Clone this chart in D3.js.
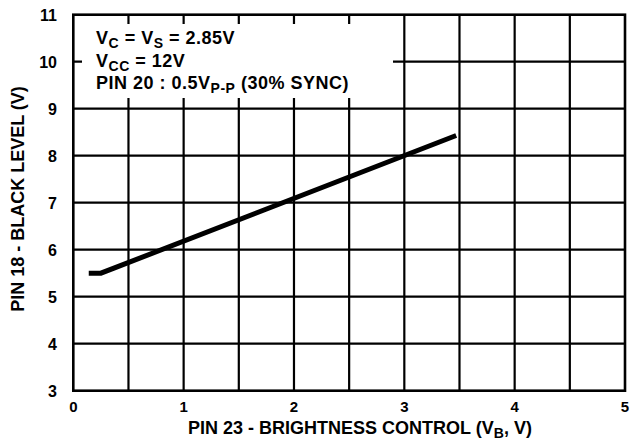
<html>
  <script src="https://d3js.org/d3.v7.min.js"></script>
  <body style="margin:0;background:#fff">
    <script>
      // curve
      let vb = [0.14, 0.25, 3.47];
      let black = [5.5, 5.5, 8.43];
      let xTicks = [0, 1, 2, 3, 4, 5];
      let yTicks = [3, 4, 5, 6, 7, 8, 9, 10, 11];
      let xGrid = [0.5, 1, 1.5, 2, 2.5, 3, 3.5, 4, 4.5];
      let yGrid = [4, 5, 6, 7, 8, 9, 10];

      let width = 631;
      let height = 446;
      let pLeft = 73.3, pRight = 625, pTop = 14.7, pBottom = 390.7;
      let font = "'Liberation Sans', Arial, sans-serif";

      let svg = d3.select("body").append("svg")
                  .attr("width", width)
                  .attr("height", height)
                  .style("font-family", font)
                  .style("font-weight", "bold");

      let x = d3.scaleLinear().domain([0, 5]).range([pLeft, pRight]);
      let y = d3.scaleLinear().domain([3, 11]).range([pBottom, pTop]);

      // grid
      xGrid.forEach(v =>
        svg.append("line")
           .attr("x1", x(v)).attr("x2", x(v))
           .attr("y1", pTop).attr("y2", pBottom)
           .attr("stroke", "black").attr("stroke-width", 2.2)
      );
      yGrid.forEach(v =>
        svg.append("line")
           .attr("x1", pLeft).attr("x2", pRight)
           .attr("y1", y(v)).attr("y2", y(v))
           .attr("stroke", "black").attr("stroke-width", 2.2)
      );

      // white box behind the notes
      svg.append("rect")
         .attr("x", 82).attr("y", 24)
         .attr("width", 311).attr("height", 74)
         .attr("fill", "white");

      // frame
      svg.append("rect")
         .attr("x", pLeft).attr("y", pTop)
         .attr("width", pRight - pLeft).attr("height", pBottom - pTop)
         .attr("fill", "none")
         .attr("stroke", "black").attr("stroke-width", 2.6);

      // tick labels
      xTicks.forEach(v =>
        svg.append("text")
           .attr("x", x(v)).attr("y", 412)
           .attr("text-anchor", "middle")
           .attr("font-size", 15)
           .text(v)
      );
      yTicks.forEach(v =>
        svg.append("text")
           .attr("x", 57).attr("y", y(v) + 5.8)
           .attr("text-anchor", "end")
           .attr("font-size", 16)
           .text(v)
      );

      // curve
      let line = d3.line().x((d, i) => x(vb[i])).y(d => y(d));
      svg.append("path")
         .attr("d", line(black))
         .attr("fill", "none")
         .attr("stroke", "black")
         .attr("stroke-width", 5);

      // axis titles
      let xt = svg.append("text")
         .attr("x", 360).attr("y", 434)
         .attr("text-anchor", "middle")
         .attr("font-size", 18);
      xt.append("tspan").text("PIN 23 - BRIGHTNESS CONTROL (V");
      xt.append("tspan").attr("font-size", 14).attr("dy", 4).text("B");
      xt.append("tspan").attr("dy", -4).text(", V)");

      svg.append("text")
         .attr("transform", "translate(23.5,199) rotate(-90)")
         .attr("text-anchor", "middle")
         .attr("font-size", 18)
         .text("PIN 18 - BLACK LEVEL (V)");

      // notes
      let notes = [
        [["V", 0], ["C", 1], [" = V", 0], ["S", 1], [" = 2.85V", 0]],
        [["V", 0], ["CC", 1], [" = 12V", 0]],
        [["PIN 20 : 0.5V", 0], ["P-P", 1], [" (30% SYNC)", 0]]
      ];
      notes.forEach((parts, k) => {
        let t = svg.append("text")
           .attr("x", 96).attr("y", 44 + k * 22.6)
           .attr("font-size", 18)
           .attr("letter-spacing", 0.5);
        let sub = 0;
        parts.forEach(p => {
          let dy = p[1] - sub;
          sub = p[1];
          t.append("tspan")
           .attr("font-size", p[1] ? 14 : 18)
           .attr("dy", dy * 4)
           .text(p[0]);
        });
      });
    </script>
  </body>
</html>
